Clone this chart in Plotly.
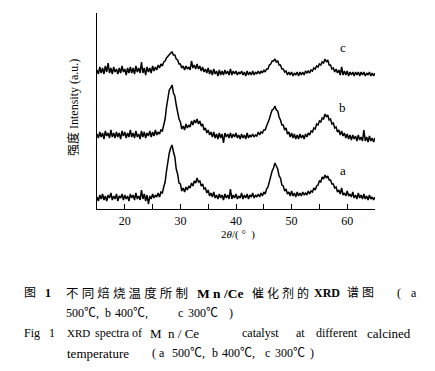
import plotly.graph_objects as go

# 2theta positions (degrees), 0.25 degree steps from 15 to 65
two_theta = [15 + 0.25 * i for i in range(201)]

# Stacked XRD intensities (a.u.) (8 values per 2 degrees)
intensity_a = [
    12, 8, 14, 10, 15, 9, 13, 8,
    14, 11, 16, 9, 13, 10, 15, 8,
    13, 11, 15, 9, 14, 10, 13, 8,
    15, 11, 14, 9, 16, 10, 13, 9,
    19, 10, 15, 8, 14, 5, 13, 10,
    15, 11, 14, 12, 16, 12, 17, 16,
    22, 27, 38, 48, 56, 61, 64, 57,
    52, 40, 35, 26, 25, 18, 21, 17,
    22, 19, 23, 21, 26, 23, 28, 26,
    31, 27, 28, 23, 25, 20, 21, 16,
    19, 13, 16, 12, 17, 11, 14, 10,
    15, 11, 14, 9, 15, 11, 14, 10,
    20, 10, 14, 11, 15, 10, 13, 11,
    16, 10, 14, 11, 15, 10, 14, 12,
    16, 11, 14, 12, 15, 12, 16, 13,
    17, 15, 20, 22, 28, 31, 38, 41,
    46, 43, 40, 33, 31, 24, 23, 18,
    20, 15, 17, 13, 18, 13, 16, 12,
    17, 13, 16, 13, 17, 14, 16, 14,
    18, 15, 18, 17, 21, 19, 23, 24,
    28, 27, 32, 30, 34, 31, 33, 29,
    29, 25, 25, 21, 22, 17, 19, 15,
    21, 14, 16, 13, 18, 13, 15, 12,
    17, 11, 14, 10, 16, 11, 14, 10,
    15, 10, 13, 9, 14, 10, 12, 9,
    12]

intensity_b = [
    75, 71, 77, 72, 76, 70, 78, 73,
    76, 71, 79, 72, 76, 71, 77, 72,
    76, 70, 78, 73, 77, 71, 76, 72,
    79, 72, 76, 71, 78, 72, 75, 70,
    78, 72, 77, 71, 76, 73, 78, 72,
    77, 73, 79, 74, 77, 75, 79, 78,
    84, 90, 102, 112, 119, 121, 124, 116,
    113, 104, 97, 90, 87, 80, 83, 79,
    85, 81, 84, 82, 88, 84, 89, 86,
    90, 85, 88, 83, 85, 79, 81, 76,
    79, 74, 77, 72, 77, 71, 75, 70,
    76, 71, 75, 66, 76, 72, 75, 71,
    76, 71, 75, 72, 76, 71, 74, 70,
    75, 71, 74, 70, 76, 71, 74, 72,
    75, 72, 74, 73, 77, 74, 77, 76,
    79, 79, 83, 86, 90, 95, 99, 100,
    103, 99, 98, 92, 89, 84, 84, 79,
    81, 75, 77, 72, 76, 71, 75, 70,
    74, 70, 75, 71, 74, 70, 75, 72,
    76, 74, 78, 77, 81, 80, 85, 84,
    88, 87, 91, 90, 95, 92, 94, 89,
    90, 85, 86, 81, 82, 77, 79, 74,
    78, 73, 76, 71, 75, 70, 74, 69,
    74, 70, 73, 68, 74, 69, 72, 68,
    79, 68, 72, 67, 73, 68, 71, 67,
    71]

intensity_c = [
    139, 135, 142, 136, 141, 135, 143, 137,
    146, 136, 141, 135, 142, 137, 140, 135,
    141, 136, 143, 137, 140, 134, 141, 136,
    142, 136, 141, 135, 143, 137, 141, 136,
    147, 136, 141, 134, 142, 137, 141, 136,
    143, 138, 142, 139, 144, 141, 145, 143,
    147, 148, 151, 153, 155, 156, 157, 154,
    154, 150, 149, 145, 145, 141, 143, 139,
    143, 140, 142, 139, 148, 141, 144, 140,
    145, 140, 143, 138, 142, 137, 140, 136,
    141, 135, 139, 134, 140, 135, 138, 133,
    139, 134, 138, 134, 139, 135, 138, 134,
    140, 134, 138, 135, 138, 134, 137, 135,
    138, 134, 137, 133, 138, 134, 137, 134,
    138, 134, 137, 135, 138, 135, 138, 136,
    139, 137, 140, 140, 144, 145, 148, 148,
    150, 147, 148, 144, 144, 140, 140, 137,
    138, 134, 137, 134, 137, 133, 136, 134,
    137, 133, 137, 134, 137, 134, 138, 136,
    138, 136, 139, 138, 141, 140, 143, 142,
    145, 144, 147, 146, 150, 147, 149, 144,
    144, 140, 141, 137, 140, 136, 139, 134,
    142, 134, 138, 134, 138, 133, 137, 134,
    137, 133, 137, 134, 137, 133, 137, 134,
    137, 133, 136, 134, 137, 133, 136, 133,
    136]

series_names = ["a", "b", "c"]
label_positions = [39, 102, 162]
label_x = 59.2

tick_values = [15, 20, 25, 30, 35, 40, 45, 50, 55, 60, 65]
tick_labels = ["", "20", "", "30", "", "40", "", "50", "", "60", ""]

NB = "\u00a0"
# caption pieces: (text, left pixel, line index, font size)
caption_pieces = [
    ("图", 22, 0, 12), ("<b>1</b>", 43, 0, 12),
    (NB.join("不同焙烧温度所制"), 64, 0, 12.5),
    ("<b>M" + NB + "n" + NB + "/Ce</b>", 195, 0, 13.5),
    (NB.join("催化剂的"), 250, 0, 12), ("<b>XRD</b>", 312, 0, 12),
    (NB.join("谱图"), 345, 0, 12), ("(", 395, 0, 12), ("a", 409, 0, 12),
    ("500℃,", 64, 1, 12), ("b", 103, 1, 12), ("400℃,", 113, 1, 12),
    ("c", 176, 1, 12), ("300℃", 186, 1, 12), (")", 227, 1, 12),
    ("Fig", 22, 2, 12), ("1", 47, 2, 12), ("XRD", 65, 2, 11), ("spectra", 93, 2, 12),
    ("of", 130, 2, 12), ("M" + NB + NB + "n" + NB + "/" + NB + "Ce", 148, 2, 13),
    ("catalyst", 240, 2, 12), ("at", 294, 2, 12), ("different", 314, 2, 12),
    ("calcined", 365, 2, 13),
    ("temperature", 65, 3, 13), ("(" + NB + "a", 150, 3, 12), ("500℃,", 170, 3, 12),
    ("b", 210, 3, 12), ("400℃,", 220, 3, 12), ("c", 263, 3, 12),
    ("300℃", 273, 3, 12), (")", 308, 3, 12),
]
caption_line_y = [293, 313, 333, 353]

SERIF = "Liberation Serif, Noto Sans CJK SC"

# plot area on screen (pixels) used to place paper-referenced text
PX0, PX1, PY0, PY1 = 97, 375, 13, 209


def paper_x(px):
    return (px - PX0) / (PX1 - PX0)


def paper_y(py):
    return (PY1 - py) / (PY1 - PY0)


fig = go.Figure()
for name, ys in zip(series_names, [intensity_a, intensity_b, intensity_c]):
    fig.add_trace(go.Scatter(x=two_theta, y=ys, mode="lines", name=name,
                             line=dict(color="black", width=1.5),
                             showlegend=False))

for name, yv in zip(series_names, label_positions):
    fig.add_annotation(x=label_x, y=yv, text=name, showarrow=False,
                       font=dict(family=SERIF, size=13, color="black"),
                       xanchor="center", yanchor="middle")

fig.add_annotation(xref="paper", yref="paper", x=paper_x(73), y=paper_y(108),
                   text="强度 Intensity (a.u.)", textangle=-90, showarrow=False,
                   font=dict(family=SERIF, size=12, color="black"),
                   xanchor="center", yanchor="middle")

fig.add_annotation(xref="x", yref="paper", x=40.3, y=paper_y(234),
                   text="2<i>θ</i>/( °  )", showarrow=False,
                   font=dict(family=SERIF, size=11, color="black"),
                   xanchor="center", yanchor="middle")

for txt, px, line, size in caption_pieces:
    fig.add_annotation(xref="paper", yref="paper", x=paper_x(px),
                       y=paper_y(caption_line_y[line]),
                       text=txt, showarrow=False,
                       font=dict(family=SERIF, size=size, color="black"),
                       xanchor="left", yanchor="middle")

# page body has an 8px margin: shrink the figure so the plot lands in place
fig.update_layout(
    width=427, height=363,
    margin=dict(l=89, r=60, t=5, b=162),
    paper_bgcolor="white", plot_bgcolor="white",
    font=dict(family=SERIF, color="black"),
    xaxis=dict(range=[15, 65], showgrid=False, zeroline=False,
               showline=True, linecolor="black", linewidth=1.2,
               tickmode="array", tickvals=tick_values, ticktext=tick_labels,
               ticks="inside", ticklen=5, tickcolor="black", tickwidth=1,
               tickfont=dict(family=SERIF, size=12, color="black")),
    yaxis=dict(range=[0, 196], showgrid=False, zeroline=False,
               showline=True, linecolor="black", linewidth=1.2,
               showticklabels=False, ticks=""),
)

fig.write_html("out.html")
